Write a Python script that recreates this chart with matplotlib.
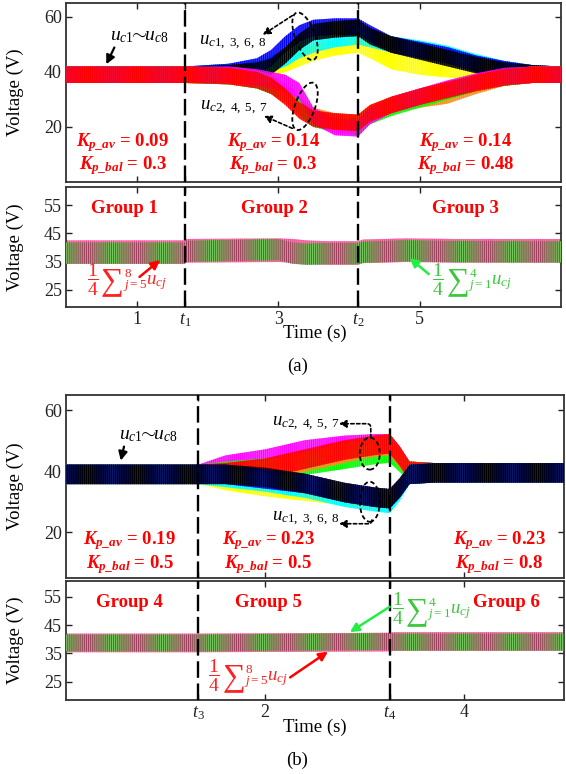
import matplotlib
matplotlib.use('Agg')
import matplotlib.pyplot as plt
import matplotlib.transforms as mtransforms
from matplotlib.patches import Ellipse
from matplotlib.colors import to_rgba

plt.rcParams['font.family'] = ['Liberation Serif', 'DejaVu Serif']
plt.rcParams['mathtext.fontset'] = 'custom'
plt.rcParams['mathtext.rm'] = 'Liberation Serif'
plt.rcParams['mathtext.it'] = 'Liberation Serif:italic'
plt.rcParams['mathtext.bf'] = 'Liberation Serif:bold'
plt.rcParams['mathtext.bfit'] = 'Liberation Serif:italic:bold'
plt.rcParams['hatch.linewidth'] = 0.8

# ---------------- data (a) ----------------
t1, t2 = 1.68, 4.13
ta = [0, 1.68, 2.3, 2.7, 2.9, 3.1, 3.3, 3.5, 3.8, 4.13, 4.3, 4.6, 5.0, 5.4, 5.8, 6.2, 6.6, 7.0]
a_yellow = [39, 39, 39.5, 40, 41, 43, 45, 47, 49, 50, 48, 44, 42, 41, 40, 39.5, 39, 39]
a_cyan = [39, 39, 40, 41, 43, 45, 48, 50, 52, 53, 52, 50, 48.5, 46.5, 43.5, 41, 39.5, 39]
a_blue = [39, 39, 40, 42, 45, 50, 54, 56, 56.5, 56.5, 54, 50, 48, 46, 43, 41, 39.5, 39]
a_black = [39, 39, 39.5, 40.5, 42, 46, 51, 54.5, 55.5, 56, 53, 50, 47.5, 45, 42.5, 40.5, 39.5, 39]
a_orange = [39, 39, 38.5, 37.5, 36, 33, 28, 24, 22, 21.5, 25, 28, 30, 31.5, 35, 38, 39, 39]
a_green = [39, 39, 38.5, 37, 35, 32, 27, 23, 21, 20, 24, 27, 30, 33, 36, 38, 39, 39]
a_magenta = [39, 39, 39, 38, 37, 36, 33, 24, 20, 19.5, 24, 28, 31, 34, 36.5, 38.5, 39, 39]
a_red = [39, 39, 38.5, 37, 35, 31, 26, 23, 22, 21.5, 25, 28, 31, 33.5, 36, 38, 39, 39]

tla = [0, 1.68, 1.7, 3.0, 3.2, 3.4, 3.7, 4.13, 4.2, 4.8, 5.5, 7.0]
a_avg_low = [38.3, 38.3, 38.8, 39, 38.8, 38.3, 38, 38, 38.6, 39, 38.8, 38.8]   # j = 5..8
a_avg_up = [38, 38, 38.6, 39.2, 38, 37.6, 37.8, 37.8, 38.3, 38.8, 38.5, 38.4]  # j = 1..4

# ---------------- data (b) ----------------
t3, t4 = 1.33, 3.25
tb = [0, 1.33, 1.6, 2.0, 2.4, 2.8, 3.1, 3.25, 3.35, 3.45, 3.7, 5.0]
b_magenta = [39, 39, 42, 44, 47, 48.5, 49, 49, 45, 40, 39.5, 39.5]
b_green = [39, 39, 40, 41, 42, 44, 45.5, 46, 43, 40, 39.5, 39.5]
b_orange = [39, 39, 39.5, 40.5, 43, 46, 48, 48.5, 44.5, 40, 39.5, 39.5]
b_red = [39, 39, 39.5, 41, 44, 47, 48.5, 49, 45, 40, 39.5, 39.5]
b_yellow = [39, 39, 37, 35, 33.5, 32, 31, 31, 34.5, 39, 39.5, 39.5]
b_cyan = [39, 39, 38, 36.5, 34.5, 31.5, 30, 29.5, 33.5, 39, 39.5, 39.5]
b_blue = [39, 39, 39, 37.5, 36, 33, 31.5, 31, 34.5, 39, 39.5, 39.5]
b_black = [39, 39, 39, 38, 36, 33, 31.5, 31, 34.5, 39, 39.5, 39.5]

tlb = [0, 1.33, 3.25, 3.3, 5.0]
b_avg_low = [38.7, 38.7, 39, 39.2, 39.2]
b_avg_up = [38.7, 38.7, 39.2, 39, 39]

ripple_top = 3.0
ripple_bot = 4.2

col = {'yellow': '#ffff00', 'cyan': '#00ffff', 'blue': '#0000ff', 'black': '#000000',
       'orange': '#ff8c1a', 'green': '#00ff00', 'magenta': '#ff00ff', 'red': '#ff0000'}
red_c, green_c = '#ff2020', '#3cc83c'


def band(ax, t, v, c, amp, z, alpha=0.75):
    lo = [x - amp for x in v]
    hi = [x + amp for x in v]
    ax.fill_between(t, lo, hi, facecolor=to_rgba(c, alpha), edgecolor=c,
                    hatch='||||||||', lw=0, zorder=z)


def style(ax, ylim, yticks):
    ax.set_ylim(*ylim)
    ax.set_yticks(yticks)
    ax.tick_params(direction='in', length=4, width=1, top=True, right=True,
                   labelsize=13, colors='#222222', pad=3)
    for s in ax.spines.values():
        s.set_linewidth(1.3)
        s.set_color('#333333')
    ax.set_ylabel('Voltage (V)', fontsize=13.5)
    ax.yaxis.set_label_coords(-0.085, 0.5)


def vlines(ax, xs):
    for x in xs:
        ax.axvline(x, color='k', lw=1.7, ls=(0, (7, 2.4)), zorder=10)


def ellipse(ax, x, y, w, h, ang):
    tr = fig.dpi_scale_trans + mtransforms.ScaledTranslation(x, y, ax.transData)
    e = Ellipse((0, 0), w / 100, h / 100, angle=ang, fill=False, ec='k',
                ls=(0, (2.5, 1.5)), lw=1.3, transform=tr, zorder=12)
    ax.add_patch(e)


def dash_arrow(ax, tip, tail, conn='arc3'):
    ax.annotate('', xy=tip, xytext=tail,
                arrowprops=dict(arrowstyle='-|>', color='k', lw=1.2, ls=(0, (2, 1.5)),
                                connectionstyle=conn, mutation_scale=11,
                                shrinkA=0, shrinkB=0), zorder=15)


def arrow(ax, tip, tail, c):
    ax.annotate('', xy=tip, xytext=tail,
                arrowprops=dict(arrowstyle='-|>', color=c, lw=1.8, mutation_scale=13,
                                shrinkA=0, shrinkB=0), zorder=15)


def sum_label(ax, x, y, lo, hi, c):
    kw = dict(xy=(x, y), textcoords='offset points', color=c, ha='left', va='center', zorder=15)
    ax.annotate(r'$\dfrac{1}{4}$', xytext=(0, 0), fontsize=14, **kw)
    ax.annotate('\u2211', xytext=(10, -1.5), fontsize=23, **kw)
    ax.annotate(r'${}_{j=%s}^{%s}u_{cj}$' % (lo, hi), xytext=(25.5, 0), fontsize=13.5, **kw)


red_txt = dict(color='#ff0000', fontsize=13.5, fontweight='bold', ha='center', va='center', zorder=15)
k_av = r'$\mathbfit{K}_{\mathbfit{p\_av}}$ = '
k_bal = r'$\mathbfit{K}_{\mathbfit{p\_bal}}$ = '
u_all = r'$u_{c1}\!\!\sim\!\! u_{c8}$'

fig = plt.figure(figsize=(5.66, 7.74), dpi=100)

# ================= (a) upper =================
ax = fig.add_axes([0.1166, 0.7649, 0.8746, 0.2309])
series = [(a_yellow, 'yellow'), (a_cyan, 'cyan'), (a_blue, 'blue'), (a_black, 'black'),
          (a_orange, 'orange'), (a_green, 'green'), (a_magenta, 'magenta'), (a_red, 'red')]
for i, (v, c) in enumerate(series):
    band(ax, ta, v, col[c], ripple_top, 2 + i)
ax.set_xlim(0, 7)
ax.set_xticks([1, t1, 3, t2, 5])
ax.set_xticklabels([])
style(ax, (0, 65), [20, 40, 60])
vlines(ax, [t1, t2])
ax.annotate(u_all, xy=(0.57, 42.8), xytext=(0.62, 53), fontsize=14,
            ha='left', va='center', arrowprops=dict(arrowstyle='-|>', color='k', lw=1.6,
                                                    mutation_scale=13, shrinkA=0, shrinkB=0,
                                                    relpos=(0.1, 0)))
ax.text(1.88, 50.5, r'$u_{c1,\ 3,\ 6,\ 8}$', fontsize=13.5, ha='left', va='center', zorder=15)
ax.text(1.9, 27, r'$u_{c2,\ 4,\ 5,\ 7}$', fontsize=13.5, ha='left', va='center', zorder=15)
dash_arrow(ax, (2.78, 53.5), (3.2, 60.5))
dash_arrow(ax, (2.8, 24), (3.2, 19.5))
ellipse(ax, 3.38, 53, 50, 20, 110)
ellipse(ax, 3.38, 27.5, 50, 20, 70)
for x, a, b in [(0.8, '0.09', '0.3'), (2.93, '0.14', '0.3'), (5.65, '0.14', '0.48')]:
    ax.text(x, 14.3, k_av + a, **red_txt)
    ax.text(x, 5.8, k_bal + b, **red_txt)

# ================= (a) lower =================
ax = fig.add_axes([0.1166, 0.6034, 0.8746, 0.155])
band(ax, tla, a_avg_low, '#ff4f9a', ripple_bot, 2)
lo = [x - ripple_bot + 0.4 for x in a_avg_up]
hi = [x + ripple_bot - 0.4 for x in a_avg_up]
ax.fill_between(tla, lo, hi, facecolor='#6fd05a', edgecolor='#a04060', hatch='||||||||', lw=0, zorder=3)
ax.set_xlim(0, 7)
ax.set_xticks([1, t1, 3, t2, 5])
ax.set_xticklabels(['1', '$t_1$', '3', '$t_2$', '5'])
style(ax, (18.8, 61.5), [25, 35, 45, 55])
vlines(ax, [t1, t2])
for x, g in [(0.82, 'Group 1'), (2.94, 'Group 2'), (5.65, 'Group 3')]:
    ax.text(x, 53.8, g, **red_txt)
sum_label(ax, 0.3, 28.5, 5, 8, red_c)
arrow(ax, (1.33, 35.5), (1.04, 29.5), '#ff0000')
sum_label(ax, 5.18, 28.5, 1, 4, green_c)
arrow(ax, (4.86, 36.2), (5.13, 30.5), '#22ee44')

fig.text(0.5565, 0.5698, 'Time (s)', fontsize=13.5, ha='center', va='center')
fig.text(0.525, 0.527, '(a)', fontsize=13.5, ha='center', va='center')

# ================= (b) upper =================
ax = fig.add_axes([0.1166, 0.2532, 0.8799, 0.2364])
series = [(b_magenta, 'magenta'), (b_green, 'green'), (b_orange, 'orange'), (b_red, 'red'),
          (b_yellow, 'yellow'), (b_cyan, 'cyan'), (b_blue, 'blue'), (b_black, 'black')]
for i, (v, c) in enumerate(series):
    band(ax, tb, v, col[c], 3.2, 2 + i, alpha=0.75 if c != 'black' else 0.55)
ax.set_xlim(0, 5)
ax.set_xticks([t3, 2, t4, 4])
ax.set_xticklabels([])
style(ax, (5, 65), [20, 40, 60])
vlines(ax, [t3, t4])
ax.annotate(u_all, xy=(0.55, 43.5), xytext=(0.53, 51.8), fontsize=14,
            ha='left', va='center', arrowprops=dict(arrowstyle='-|>', color='k', lw=1.6,
                                                    mutation_scale=13, shrinkA=0, shrinkB=0,
                                                    relpos=(0.1, 0)))
ax.text(2.07, 55.6, r'$u_{c2,\ 4,\ 5,\ 7}$', fontsize=13.5, ha='left', va='center', zorder=15)
ax.text(2.07, 24.4, r'$u_{c1,\ 3,\ 6,\ 8}$', fontsize=13.5, ha='left', va='center', zorder=15)
dash_arrow(ax, (2.74, 55.6), (3.06, 51), 'angle,angleA=90,angleB=0,rad=4')
dash_arrow(ax, (2.74, 22.8), (3.07, 24), 'angle,angleA=-90,angleB=0,rad=3')
ellipse(ax, 3.05, 45.8, 20, 32, 0)
ellipse(ax, 3.05, 30, 20, 40, 0)
for x, a, b in [(0.64, '0.19', '0.5'), (2.03, '0.23', '0.5'), (4.35, '0.23', '0.8')]:
    ax.text(x, 17.2, k_av + a, **red_txt)
    ax.text(x, 9.4, k_bal + b, **red_txt)

# ================= (b) lower =================
ax = fig.add_axes([0.1166, 0.0956, 0.8799, 0.1537])
band(ax, tlb, b_avg_low, '#ff4f9a', 3.3, 2)
lo = [x - 3.0 for x in b_avg_up]
hi = [x + 3.0 for x in b_avg_up]
ax.fill_between(tlb, lo, hi, facecolor='#6fd05a', edgecolor='#a04060', hatch='||||||||', lw=0, zorder=3)
ax.set_xlim(0, 5)
ax.set_xticks([t3, 2, t4, 4])
ax.set_xticklabels(['$t_3$', '2', '$t_4$', '4'])
style(ax, (18.5, 60.6), [25, 35, 45, 55])
vlines(ax, [t3, t4])
for x, g in [(0.64, 'Group 4'), (2.03, 'Group 5'), (4.42, 'Group 6')]:
    ax.text(x, 53, g, **red_txt)
sum_label(ax, 1.43, 27, 5, 8, red_c)
arrow(ax, (2.63, 35.6), (2.25, 26.5), '#ff0000')
sum_label(ax, 3.27, 50.6, 1, 4, green_c)
arrow(ax, (2.85, 42.5), (3.25, 51.5), '#22ee44')

fig.text(0.5565, 0.0607, 'Time (s)', fontsize=13.5, ha='center', va='center')
fig.text(0.525, 0.0181, '(b)', fontsize=13.5, ha='center', va='center')

fig.savefig('out.png', dpi=100)
